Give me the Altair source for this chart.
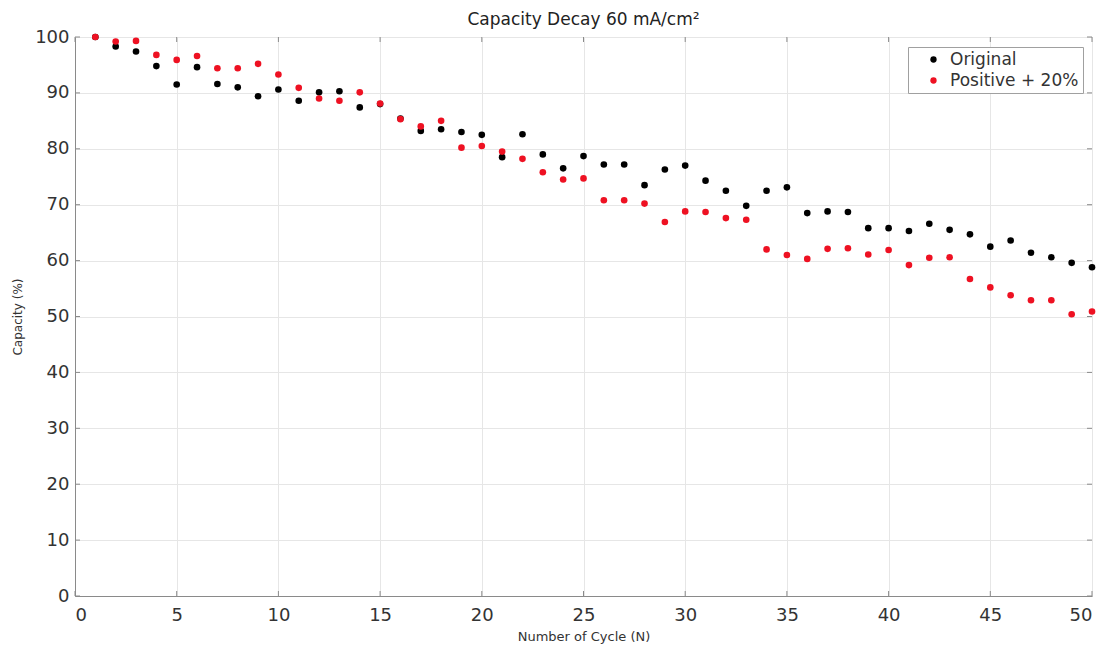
import altair as alt
import pandas as pd

cycles = list(range(1, 51))
original = [100.0, 98.3, 97.4, 94.8, 91.5, 94.6, 91.6, 91.0, 89.4, 90.6,
            88.6, 90.1, 90.3, 87.4, 88.0, 85.4, 83.2, 83.5, 83.0, 82.5,
            78.5, 82.6, 79.0, 76.5, 78.7, 77.2, 77.2, 73.5, 76.3, 77.0,
            74.3, 72.5, 69.8, 72.5, 73.1, 68.5, 68.8, 68.7, 65.8, 65.8,
            65.3, 66.6, 65.5, 64.7, 62.5, 63.6, 61.4, 60.6, 59.6, 58.8]
positive = [100.0, 99.2, 99.3, 96.8, 95.9, 96.6, 94.4, 94.4, 95.2, 93.3,
            90.9, 89.0, 88.6, 90.1, 88.1, 85.3, 84.0, 85.0, 80.2, 80.5,
            79.5, 78.2, 75.8, 74.5, 74.7, 70.8, 70.8, 70.2, 66.9, 68.8,
            68.7, 67.6, 67.3, 62.0, 61.0, 60.3, 62.1, 62.2, 61.1, 61.9,
            59.2, 60.5, 60.6, 56.7, 55.2, 53.8, 52.9, 52.9, 50.4, 50.9]
series_names = ["Original", "Positive + 20%"]
series_colors = ["#000000", "#ee1122"]
x_ticks = list(range(0, 51, 5))
y_ticks = list(range(0, 101, 10))

df = pd.DataFrame({
    "cycle": cycles * 2,
    "capacity": original + positive,
    "series": [series_names[0]] * 50 + [series_names[1]] * 50,
})

W, H = 1017, 559
FONT = "DejaVu Sans"

xscale = alt.Scale(domain=[0, 50], nice=False, zero=False)
yscale = alt.Scale(domain=[0, 100], nice=False)

points = alt.Chart(df).mark_circle(size=44, opacity=1).encode(
    x=alt.X("cycle:Q", scale=xscale,
            axis=alt.Axis(values=x_ticks, title="Number of Cycle (N)",
                          labelFontSize=18, labelColor="#333333", labelFont=FONT,
                          titleFontSize=13, titleFont=FONT, titleColor="#333333",
                          titleFontWeight="normal", titlePadding=6,
                          tickSize=0, labelPadding=10,
                          domainColor="#8a8a8a", gridColor="#e6e6e6")),
    y=alt.Y("capacity:Q", scale=yscale,
            axis=alt.Axis(values=y_ticks, title="Capacity (%)",
                          labelFontSize=18, labelColor="#333333", labelFont=FONT,
                          titleFontSize=12, titleFont=FONT, titleColor="#333333",
                          titleFontWeight="normal", titlePadding=10,
                          tickSize=0, labelPadding=6,
                          domainColor="#8a8a8a", gridColor="#e6e6e6")),
    color=alt.Color("series:N",
                    scale=alt.Scale(domain=series_names, range=series_colors),
                    legend=alt.Legend(title=None, orient="none", legendX=833, legendY=10,
                                      labelFontSize=17, labelFont=FONT, labelColor="#333333",
                                      symbolSize=40, symbolType="circle",
                                      strokeColor="#a0a0a0", fillColor="white",
                                      padding=4, rowPadding=3, labelLimit=300,
                                      symbolOffset=13, labelOffset=8)),
)

xt = pd.DataFrame({"t": x_ticks})
yt = pd.DataFrame({"t": y_ticks})
tick_x_bottom = alt.Chart(xt).mark_rule(color="#8a8a8a").encode(
    x=alt.X("t:Q", scale=xscale), y=alt.value(H), y2=alt.value(H - 5))
tick_x_top = alt.Chart(xt).mark_rule(color="#8a8a8a").encode(
    x=alt.X("t:Q", scale=xscale), y=alt.value(0), y2=alt.value(5))
tick_y_left = alt.Chart(yt).mark_rule(color="#8a8a8a").encode(
    y=alt.Y("t:Q", scale=yscale), x=alt.value(0), x2=alt.value(5))
tick_y_right = alt.Chart(yt).mark_rule(color="#8a8a8a").encode(
    y=alt.Y("t:Q", scale=yscale), x=alt.value(W), x2=alt.value(W - 5))

chart = alt.layer(points, tick_x_bottom, tick_x_top, tick_y_left, tick_y_right).properties(
    width=W, height=H,
    title=alt.TitleParams("Capacity Decay 60 mA/cm²", fontSize=17, font=FONT,
                          fontWeight="normal", color="#222222", offset=6, dy=7),
    autosize=alt.AutoSizeParams(type="none"),
    padding={"left": 75, "top": 37, "right": 16, "bottom": 52},
).configure_view(stroke="#8a8a8a", strokeWidth=1).configure(background="white")

chart.save("out.html", embed_options={"renderer": "svg", "actions": False})
